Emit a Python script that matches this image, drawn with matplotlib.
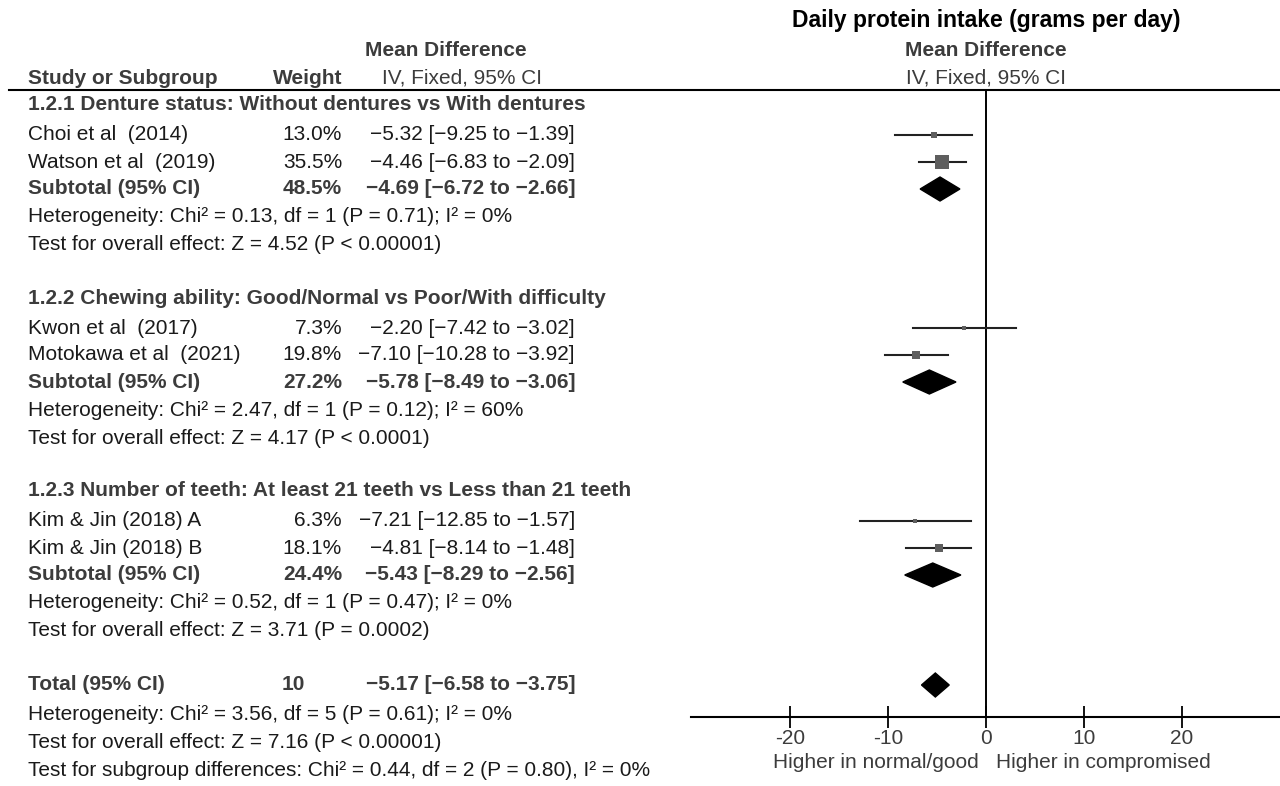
import numpy as np
import matplotlib.pyplot as plt
from matplotlib.patches import Polygon

plt.rcParams['font.family'] = ['Liberation Sans', 'DejaVu Sans']

# study level data
studies = ['Choi et al  (2014)', 'Watson et al  (2019)',
           'Kwon et al  (2017)', 'Motokawa et al  (2021)',
           'Kim & Jin (2018) A', 'Kim & Jin (2018) B']
weights = [13.0, 35.5, 7.3, 19.8, 6.3, 18.1]
md = [-5.32, -4.46, -2.20, -7.10, -7.21, -4.81]
ci_low = [-9.25, -6.83, -7.42, -10.28, -12.85, -8.14]
ci_high = [-1.39, -2.09, 3.02, -3.92, -1.57, -1.48]
md_text = ['−5.32 [−9.25 to −1.39]', '−4.46 [−6.83 to −2.09]',
           '−2.20 [−7.42 to −3.02]', '−7.10 [−10.28 to −3.92]',
           '−7.21 [−12.85 to −1.57]', '−4.81 [−8.14 to −1.48]']

# subgroups
groups = ['1.2.1 Denture status: Without dentures vs With dentures',
          '1.2.2 Chewing ability: Good/Normal vs Poor/With difficulty',
          '1.2.3 Number of teeth: At least 21 teeth vs Less than 21 teeth']
sub_weights = [48.5, 27.2, 24.4]
sub_md = [-4.69, -5.78, -5.43]
sub_low = [-6.72, -8.49, -8.29]
sub_high = [-2.66, -3.06, -2.56]
sub_text = ['−4.69 [−6.72 to −2.66]', '−5.78 [−8.49 to −3.06]',
            '−5.43 [−8.29 to −2.56]']
het_text = ['Heterogeneity: Chi² = 0.13, df = 1 (P = 0.71); I² = 0%',
            'Heterogeneity: Chi² = 2.47, df = 1 (P = 0.12); I² = 60%',
            'Heterogeneity: Chi² = 0.52, df = 1 (P = 0.47); I² = 0%']
eff_text = ['Test for overall effect: Z = 4.52 (P < 0.00001)',
            'Test for overall effect: Z = 4.17 (P < 0.0001)',
            'Test for overall effect: Z = 3.71 (P = 0.0002)']

# overall
total_n = '10'
total_md = -5.17
total_low = -6.58
total_high = -3.75
total_text = '−5.17 [−6.58 to −3.75]'
total_lines = ['Heterogeneity: Chi² = 3.56, df = 5 (P = 0.61); I² = 0%',
               'Test for overall effect: Z = 7.16 (P < 0.00001)',
               'Test for subgroup differences: Chi² = 0.44, df = 2 (P = 0.80), I² = 0%']

xticks = [-20, -10, 0, 10, 20]

# layout (pixel rows from the top)
W, H = 1280, 786
group_top = [105, 298, 491]
total_y = 685
axis_y = 717
line_y = 90

fig = plt.figure(figsize=(W / 100, H / 100), dpi=100)
bg = fig.add_axes([0, 0, 1, 1])
bg.set_xlim(0, W)
bg.set_ylim(H, 0)
bg.axis('off')

fs = 15
dark = '#1a1a1a'
grey = '#3c3c3c'

# cabecalho
bg.text(986, 20, 'Daily protein intake (grams per day)', ha='center', va='center',
        fontsize=16.5, fontweight='bold', color='black')
bg.text(986, 50, 'Mean Difference', ha='center', va='center', fontsize=fs, fontweight='bold', color=grey)
bg.text(986, 78, 'IV, Fixed, 95% CI', ha='center', va='center', fontsize=fs, color=grey)
bg.text(446, 50, 'Mean Difference', ha='center', va='center', fontsize=fs, fontweight='bold', color=grey)
bg.text(28, 78, 'Study or Subgroup', ha='left', va='center', fontsize=fs, fontweight='bold', color=grey)
bg.text(342, 78, 'Weight', ha='right', va='center', fontsize=fs, fontweight='bold', color=grey)
bg.text(462, 78, 'IV, Fixed, 95% CI', ha='center', va='center', fontsize=fs, color=grey)
bg.plot([9, W], [line_y, line_y], color='black', lw=1.5)

# eixo do forest plot
ax = fig.add_axes([691 / W, (H - axis_y) / H, (W - 691) / W, (axis_y - line_y) / H])
ax.patch.set_visible(False)
ax.set_xlim(-30.1, 30.0)
ax.set_ylim(axis_y, line_y)
for s in ['top', 'left', 'right']:
    ax.spines[s].set_visible(False)
ax.spines['bottom'].set_linewidth(1.5)
ax.set_yticks([])
ax.set_xticks(xticks)
ax.set_xticklabels([str(t) for t in xticks], fontsize=fs, color=grey)
ax.tick_params(axis='x', direction='inout', length=16, width=1.3, pad=1)
ax.axvline(0, color='black', lw=1.4)

k = 0
for g in range(3):
    y0 = group_top[g]
    bg.text(28, y0, groups[g], ha='left', va='center', fontsize=fs, fontweight='bold', color=grey)
    for j in range(2):
        y = y0 + 30 + 27 * j
        bg.text(28, y, studies[k], ha='left', va='center', fontsize=fs, color=dark)
        bg.text(342, y, f'{weights[k]:.1f}%', ha='right', va='center', fontsize=fs, color=dark)
        bg.text(575, y, md_text[k], ha='right', va='center', fontsize=fs, color=dark)
        ax.plot([ci_low[k], ci_high[k]], [y, y], color='#222222', lw=1.5, zorder=2)
        side = 2 + 0.31 * weights[k]
        ax.plot(md[k], y, marker='s', markersize=side * 0.72, color='#5e5e5e',
                markeredgewidth=0, zorder=3)
        k += 1
    ys = y0 + 84
    bg.text(28, ys, 'Subtotal (95% CI)', ha='left', va='center', fontsize=fs, fontweight='bold', color=grey)
    bg.text(342, ys, f'{sub_weights[g]:.1f}%', ha='right', va='center', fontsize=fs, fontweight='bold', color=grey)
    bg.text(575, ys, sub_text[g], ha='right', va='center', fontsize=fs, fontweight='bold', color=grey)
    ax.add_patch(Polygon([[sub_low[g], ys], [sub_md[g], ys - 12], [sub_high[g], ys], [sub_md[g], ys + 12]],
                         closed=True, color='black', zorder=3))
    bg.text(28, y0 + 112, het_text[g], ha='left', va='center', fontsize=fs, color=dark)
    bg.text(28, y0 + 140, eff_text[g], ha='left', va='center', fontsize=fs, color=dark)

# total
bg.text(28, total_y, 'Total (95% CI)', ha='left', va='center', fontsize=fs, fontweight='bold', color=grey)
bg.text(282, total_y, total_n, ha='left', va='center', fontsize=fs, fontweight='bold', color=grey)
bg.text(575, total_y, total_text, ha='right', va='center', fontsize=fs, fontweight='bold', color=grey)
ax.add_patch(Polygon([[total_low, total_y], [total_md, total_y - 12], [total_high, total_y], [total_md, total_y + 12]],
                     closed=True, color='black', zorder=3))
for i, t in enumerate(total_lines):
    bg.text(28, total_y + 30 + 27.5 * i, t, ha='left', va='center', fontsize=fs, color=dark)

bg.text(979, 762, 'Higher in normal/good', ha='right', va='center', fontsize=fs, color=grey)
bg.text(996, 762, 'Higher in compromised', ha='left', va='center', fontsize=fs, color=grey)

plt.savefig('out.png', dpi=100)
